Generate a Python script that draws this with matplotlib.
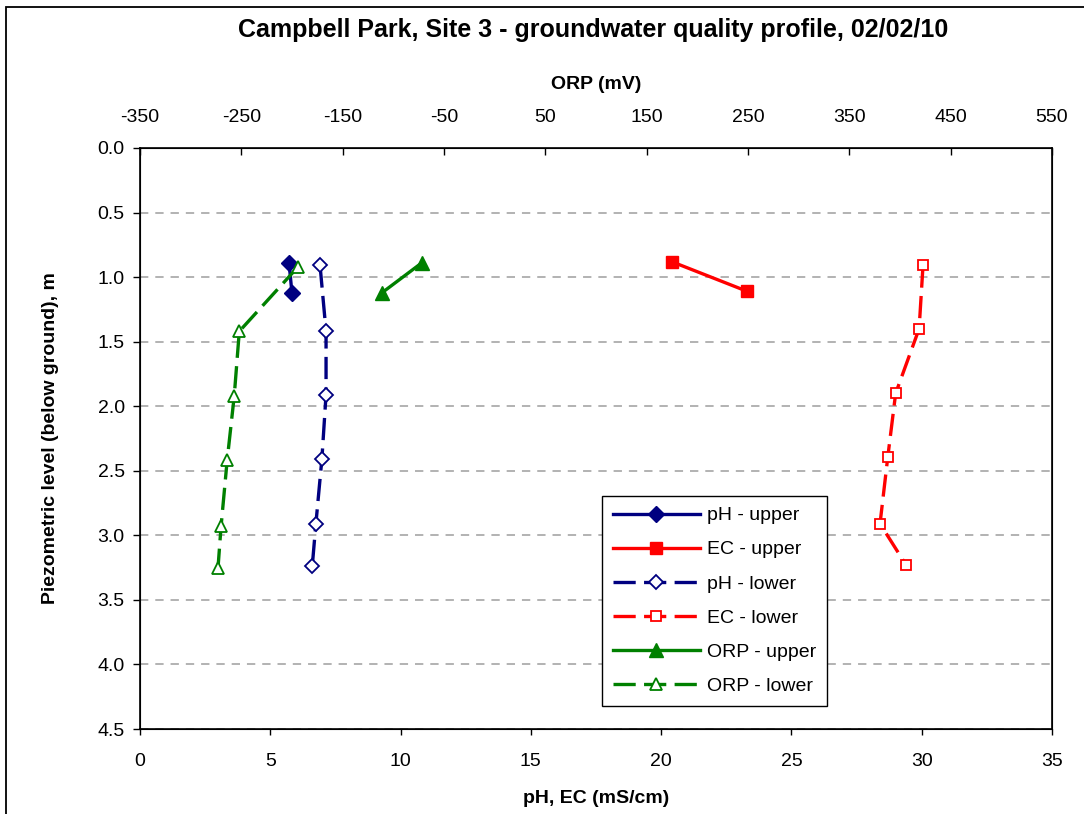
import matplotlib
matplotlib.use("Agg")
import matplotlib.pyplot as plt
from matplotlib.patches import Rectangle

plt.rcParams["font.family"] = ["Liberation Sans", "DejaVu Sans"]
plt.rcParams["lines.scale_dashes"] = False
plt.rcParams["axes.unicode_minus"] = False

# ---- data ----
ph_upper_x = [5.72, 5.83]
ph_upper_y = [0.89, 1.12]
ec_upper_x = [20.4, 23.3]
ec_upper_y = [0.88, 1.11]
ph_lower_x = [6.91, 7.14, 7.14, 6.98, 6.75, 6.61]
ph_lower_y = [0.91, 1.42, 1.91, 2.41, 2.91, 3.24]
ec_lower_x = [30.05, 29.9, 29.0, 28.7, 28.4, 29.4]
ec_lower_y = [0.91, 1.40, 1.90, 2.39, 2.91, 3.23]
orp_upper_x = [-72, -111]
orp_upper_y = [0.89, 1.12]
orp_lower_x = [-194, -252, -257, -264, -270, -273]
orp_lower_y = [0.92, 1.42, 1.92, 2.42, 2.93, 3.25]

bottom_ticks = [0, 5, 10, 15, 20, 25, 30, 35]
top_ticks = [-350, -250, -150, -50, 50, 150, 250, 350, 450, 550]
y_ticks = [0.0, 0.5, 1.0, 1.5, 2.0, 2.5, 3.0, 3.5, 4.0, 4.5]

navy = "#000080"
red = "#FF0000"
green = "#008000"
dash = (0, (16, 6))

fig = plt.figure(figsize=(10.84, 8.14), dpi=100)
fig.subplots_adjust(left=140/1084, right=1052/1084, top=1-148/814, bottom=1-729/814)
ax = fig.add_subplot(111)

# outer chart border
fig.patches.append(Rectangle((6/1084, -0.1), 1.2, 1.1 - 7/814, transform=fig.transFigure,
                             fill=False, edgecolor="black", linewidth=1.3))

h1, = ax.plot(ph_upper_x, ph_upper_y, color=navy, lw=2.4, marker="D", ms=8,
              mfc=navy, mec=navy, label="pH - upper")
h2, = ax.plot(ec_upper_x, ec_upper_y, color=red, lw=2.4, marker="s", ms=8,
              mfc=red, mec=red, label="EC - upper")
h3, = ax.plot(ph_lower_x, ph_lower_y, color=navy, lw=2.4, ls=dash, marker="D", ms=7,
              mfc="white", mec=navy, mew=1.3, label="pH - lower")
h4, = ax.plot(ec_lower_x, ec_lower_y, color=red, lw=2.4, ls=dash, marker="s", ms=7,
              mfc="white", mec=red, mew=1.3, label="EC - lower")

ax.set_xlim(0, 35)
ax.set_ylim(4.5, 0)
ax.set_xticks(bottom_ticks)
ax.set_yticks(y_ticks)
ax.set_yticklabels([f"{v:.1f}" for v in y_ticks])
ax.tick_params(axis="x", labelsize=14, direction="out", length=4, width=1, pad=13)
ax.tick_params(axis="y", labelsize=14, direction="out", length=5, width=1, pad=6)
ax.yaxis.grid(True, color="#A6A6A6", linestyle=(0, (6, 5)), linewidth=1.2)
ax.set_axisbelow(True)
ax.set_xlabel("pH, EC (mS/cm)", fontsize=14, fontweight="bold", labelpad=15)
ax.set_ylabel("Piezometric level (below ground), m", fontsize=14, fontweight="bold", labelpad=28)
for s in ax.spines.values():
    s.set_linewidth(1.2)

ax2 = ax.twiny()
h5, = ax2.plot(orp_upper_x, orp_upper_y, color=green, lw=2.4, marker="^", ms=10,
               mfc=green, mec=green, label="ORP - upper")
h6, = ax2.plot(orp_lower_x, orp_lower_y, color=green, lw=2.4, ls=dash, marker="^", ms=9,
               mfc="white", mec=green, mew=1.3, label="ORP - lower")
ax2.set_xlim(-350, 550)
ax2.set_xticks(top_ticks)
ax2.tick_params(axis="x", labelsize=14, direction="in", length=5, width=1, pad=16)
ax2.set_xlabel("ORP (mV)", fontsize=14, fontweight="bold", labelpad=14)
ax2.set_ylim(4.5, 0)

leg = ax2.legend(handles=[h1, h2, h3, h4, h5, h6], loc="upper left",
                 bbox_to_anchor=(0.5066, 0.401), borderaxespad=0, fontsize=14,
                 handlelength=4.5, labelspacing=0.85, borderpad=0.55, handletextpad=0.35,
                 fancybox=False, framealpha=1, edgecolor="black")
leg.get_frame().set_linewidth(1.0)

fig.text(0.547, 1-30/814, "Campbell Park, Site 3 - groundwater quality profile, 02/02/10",
         ha="center", va="center", fontsize=18, fontweight="bold")

fig.savefig("out.png", dpi=100)
